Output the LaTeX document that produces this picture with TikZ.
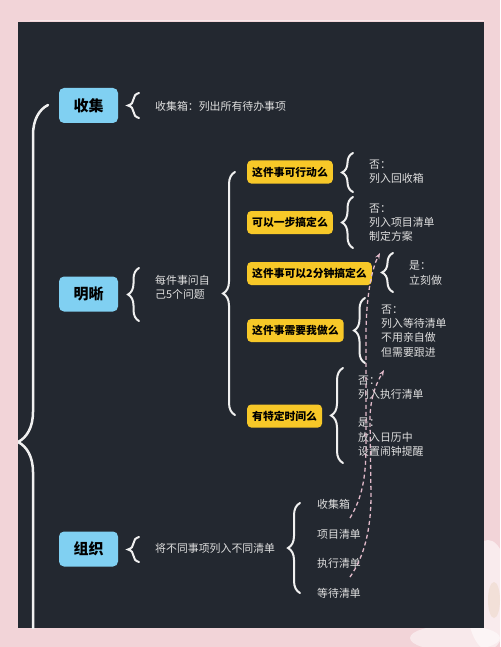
\documentclass[tikz,border=0pt]{standalone}
\usepackage{fontspec}
\setmainfont{Noto Sans CJK SC}
\usetikzlibrary{decorations.pathreplacing,arrows.meta}
\definecolor{bgpink}{RGB}{242,212,216}
\definecolor{cpanel}{RGB}{35,40,48}
\definecolor{cblue}{RGB}{128,208,242}
\definecolor{cyellow}{RGB}{247,200,40}
\definecolor{ctext}{RGB}{222,222,222}
\definecolor{cwhite}{RGB}{240,240,240}
\definecolor{cpinkline}{RGB}{226,186,202}
\begin{document}
\begin{tikzpicture}[x=1pt,y=-1pt,
  bluebox/.style={fill=cblue, rounded corners=5pt, minimum width=59pt, minimum height=35pt, inner sep=0pt, text=black, font=\fontsize{15}{18}\selectfont\bfseries},
  ybox/.style={fill=cyellow, rounded corners=4pt, minimum height=23pt, inner xsep=5pt, inner ysep=0pt, text=black, anchor=west, font=\fontsize{10.8}{12}\selectfont\bfseries},
  txt/.style={text=ctext, align=left, inner sep=0pt, anchor=west, font=\fontsize{10.9}{14.3}\selectfont},
  br/.style={draw=cwhite, line width=2pt, line cap=round, decorate, decoration={brace, amplitude=#1}},
  br/.default=11pt,
  darr/.style={draw=cpinkline, line width=1.3pt, dash pattern=on 4pt off 3pt, -{Stealth[length=6pt,width=4.5pt]}}
]
\useasboundingbox (0,0) rectangle (500,647);
\fill[bgpink] (0,0) rectangle (500,647);
% flower behind the panel
\fill[white,opacity=0.55] (488,595) ellipse [x radius=22, y radius=55];
\fill[white,opacity=0.5] (455,638) ellipse [x radius=45, y radius=13];
\fill[brown!40!white,opacity=0.35] (494,600) ellipse [x radius=6, y radius=18];
% panel
\draw[white,opacity=0.45,line width=1.5pt] (30,20.5) -- (484,20.5);
\fill[cpanel] (18,22) rectangle (484,628);

% big left brace (clipped by panel)
\begin{scope}
\clip (18,22) rectangle (484,628);
\draw[br=30pt, line width=2.5pt] (48,779) -- (48,105);
\end{scope}

% main boxes
\node[bluebox] (shouji) at (88.5,105.5) {收集};
\node[bluebox] (mingxi) at (88.5,294) {明晰};
\node[bluebox] (zuzhi) at (88.5,549) {组织};

\draw[br] (139,118) -- (139,93);
\draw[br] (139,321) -- (139,268);
\draw[br] (139,562) -- (139,537);

\node[txt] (t1) at (155,106) {收集箱：列出所有待办事项};
\node[txt] (t2) at (155,287) {每件事问自\\己5个问题};
\node[txt] (t3) at (155,548) {将不同事项列入不同清单};

% questions
\draw[br=12pt] (235,415) -- (235,172);
\node[ybox] (q1) at (247,172) {这件事可行动么};
\node[ybox] (q2) at (247,222.5) {可以一步搞定么};
\node[ybox] (q3) at (247,273.5) {这件事可以2分钟搞定么};
\node[ybox] (q4) at (247,330.5) {这件事需要我做么};
\node[ybox] (q5) at (247,416) {有特定时间么};

\draw[br] (353,192) -- (353,153);
\draw[br] (353,248) -- (353,197);
\draw[br] (393,292) -- (393,253);
\draw[br] (365,363) -- (365,298);
\draw[br=12pt] (343,463) -- (343,368);

\node[txt] (a1) at (369,172) {否：\\列入回收箱};
\node[txt] (a2) at (369,222.5) {否：\\列入项目清单\\制定方案};
\node[txt] (a3) at (409,273) {是：\\立刻做};
\node[txt] (a4) at (381,331) {否：\\列入等待清单\\不用亲自做\\但需要跟进};
\node[txt] (a5) at (358,416) {否：\\列入执行清单\\[14.3pt]是：\\放入日历中\\设置闹钟提醒};

% lists
\draw[br=12pt] (300,593) -- (300,503);
\node[txt] (l1) at (317,504) {收集箱};
\node[txt] (l2) at (317,534) {项目清单};
\node[txt] (l3) at (317,563) {执行清单};
\node[txt] (l4) at (317,593) {等待清单};

% dashed links
\coordinate (s1) at (350,518);
\coordinate (e1) at (380,253);
\coordinate (s2) at (350,577);
\coordinate (e2) at (384,370);
\draw[darr] (s1) .. controls (362,498) and (366,478) .. (366,445) -- (366,335) .. controls (366,300) and (371,270) .. (e1);
\draw[darr] (s2) .. controls (364,557) and (371,530) .. (371,495) -- (370,420) .. controls (370,398) and (376,384) .. (e2);
\end{tikzpicture}
\end{document}
